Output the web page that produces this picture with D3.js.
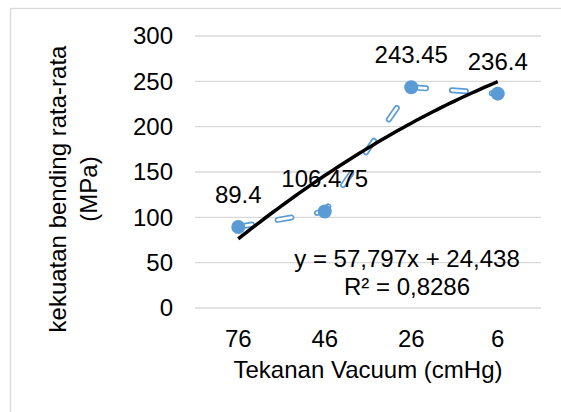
<!DOCTYPE html>
<html>
<head>
<meta charset="utf-8">
<script src="https://cdn.jsdelivr.net/npm/d3@7"></script>
<style>
  body { margin: 0; background: #fff; }
  text { font-family: "Liberation Sans", Arial, sans-serif; fill: #000; }
</style>
</head>
<body>
<div id="chart"></div>
<script>
// data
const categories = ["76", "46", "26", "6"]
const values = [89.4, 106.475, 243.45, 236.4]
const yTicks = [0, 50, 100, 150, 200, 250, 300]
const equationLines = ["y = 57,797x + 24,438", "R\u00b2 = 0,8286"]

function drawChart(){

    // 1. dimensions
    let dimensions = {
        width: 561,
        height: 412,
        margin: { top: 36, right: 20, bottom: 104, left: 195 },
    }
    dimensions.boundedWidth = dimensions.width - dimensions.margin.left - dimensions.margin.right
    dimensions.boundedHeight = dimensions.height - dimensions.margin.top - dimensions.margin.bottom

    const fontSize = 24

    // 2. canvas
    const wrapper = d3.select("#chart")
      .append("svg")
        .attr("width", dimensions.width)
        .attr("height", dimensions.height)

    // chart area border (runs off the picture at right and bottom)
    wrapper.append("rect")
        .attr("x", 10.5)
        .attr("y", 8.5)
        .attr("width", 600)
        .attr("height", 500)
        .attr("fill", "none")
        .attr("stroke", "#d9d9d9")
        .attr("stroke-width", 1.3)

    const bounds = wrapper.append("g")
        .attr("transform", `translate(${dimensions.margin.left},${dimensions.margin.top})`)

    // 3. scales
    const xScale = d3.scaleBand()
        .domain(categories)
        .range([0, dimensions.boundedWidth])

    const yScale = d3.scaleLinear()
        .domain([0, 300])
        .range([dimensions.boundedHeight, 0])

    const xCenter = c => xScale(c) + xScale.bandwidth() / 2

    // 4. gridlines
    bounds.append("g")
        .selectAll("line")
        .data(yTicks)
        .join("line")
          .attr("x1", 0)
          .attr("x2", dimensions.boundedWidth)
          .attr("y1", d => yScale(d))
          .attr("y2", d => yScale(d))
          .attr("stroke", "#d9d9d9")
          .attr("stroke-width", 1.3)

    // y tick labels
    bounds.append("g")
        .selectAll("text")
        .data(yTicks)
        .join("text")
          .attr("x", -22)
          .attr("y", d => yScale(d))
          .attr("dy", "0.35em")
          .attr("text-anchor", "end")
          .style("font-size", fontSize + "px")
          .text(d => d)

    // x tick labels
    bounds.append("g")
        .selectAll("text")
        .data(categories)
        .join("text")
          .attr("x", d => xCenter(d))
          .attr("y", dimensions.boundedHeight + 39)
          .attr("text-anchor", "middle")
          .style("font-size", fontSize + "px")
          .text(d => d)

    // 5. data line (outlined long dash) + markers
    const points = categories.map((c, i) => [xCenter(c), yScale(values[i])])
    const lineGenerator = d3.line()

    bounds.append("path")
        .attr("d", lineGenerator(points))
        .attr("fill", "none")
        .attr("stroke", "#5b9bd5")
        .attr("stroke-width", 6)
        .attr("stroke-linecap", "round")
        .attr("stroke-dasharray", "14,26")

    bounds.append("path")
        .attr("d", lineGenerator(points))
        .attr("fill", "none")
        .attr("stroke", "#fff")
        .attr("stroke-width", 2.6)
        .attr("stroke-linecap", "round")
        .attr("stroke-dasharray", "14,26")

    // trendline: quadratic least squares fit of the values
    const xs = values.map((d, i) => i + 1)
    const n = xs.length
    const xm = d3.mean(xs), ym = d3.mean(values)
    const t = xs.map(x => x - xm)
    const t2m = d3.mean(t, d => d * d)
    const b1 = d3.sum(t, (d, i) => d * values[i]) / d3.sum(t, d => d * d)
    const q = t.map(d => d * d - t2m)
    const b2 = d3.sum(q, (d, i) => d * values[i]) / d3.sum(q, d => d * d)
    const fit = x => ym + b1 * (x - xm) + b2 * ((x - xm) ** 2 - t2m)

    const xPos = d3.scaleLinear().domain([1, n]).range([xCenter(categories[0]), xCenter(categories[n - 1])])
    const trendPts = d3.range(1, n + 0.001, 0.05).map(x => [xPos(x), yScale(fit(x))])

    bounds.selectAll("circle")
        .data(points)
        .join("circle")
          .attr("cx", d => d[0])
          .attr("cy", d => d[1])
          .attr("r", 7)
          .attr("fill", "#5b9bd5")

    bounds.append("path")
        .attr("d", lineGenerator(trendPts))
        .attr("fill", "none")
        .attr("stroke", "#000")
        .attr("stroke-width", 3.5)

    // data labels
    bounds.append("g")
        .selectAll("text")
        .data(values)
        .join("text")
          .attr("x", (d, i) => points[i][0])
          .attr("y", (d, i) => points[i][1] - 24)
          .attr("text-anchor", "middle")
          .style("font-size", fontSize + "px")
          .text(d => d)

    // trendline equation
    bounds.append("g")
        .selectAll("text")
        .data(equationLines)
        .join("text")
          .attr("x", 407 - dimensions.margin.left)
          .attr("y", (d, i) => yScale(50) + 4 + i * 28)
          .attr("text-anchor", "middle")
          .style("font-size", fontSize + "px")
          .text(d => d)

    // 6. axis titles
    wrapper.append("text")
        .attr("x", dimensions.margin.left + dimensions.boundedWidth / 2)
        .attr("y", 378)
        .attr("text-anchor", "middle")
        .style("font-size", fontSize + "px")
        .text("Tekanan Vacuum (cmHg)")

    const yTitle = wrapper.append("text")
        .attr("transform", "translate(0,189) rotate(-90)")
        .attr("text-anchor", "middle")
        .style("font-size", fontSize + "px")
    yTitle.append("tspan").attr("x", 0).attr("y", 66).text("kekuatan bending rata-rata")
    yTitle.append("tspan").attr("x", 0).attr("y", 97).text("(MPa)")
}

drawChart()
</script>
</body>
</html>
